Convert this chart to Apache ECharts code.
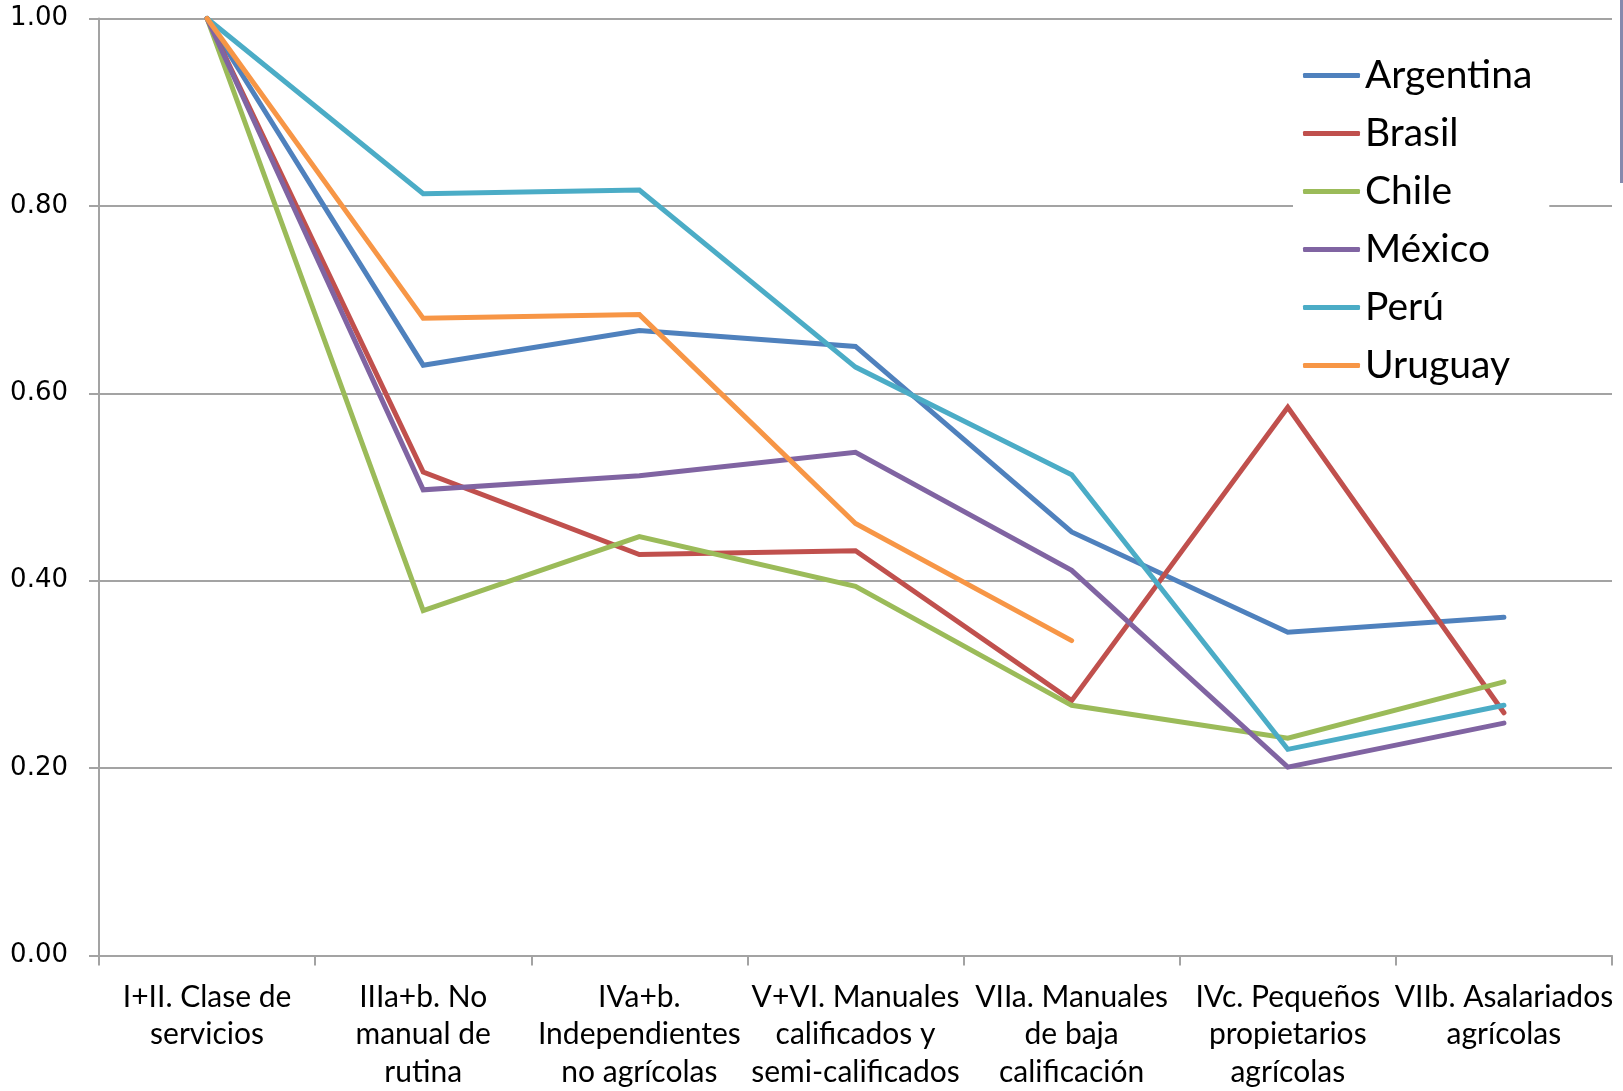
<!DOCTYPE html>
<html>
<head>
<meta charset="utf-8">
<script src="https://cdn.jsdelivr.net/npm/echarts@6/dist/echarts.min.js"></script>
<style>
  html, body { margin: 0; padding: 0; background: #ffffff; }
  #chart { width: 1623px; height: 1091px; }
</style>
</head>
<body>
<div id="chart"></div>
<script>
// Occupational classes (x categories)
const categories = [
  'I+II. Clase de\nservicios',
  'IIIa+b. No\nmanual de\nrutina',
  'IVa+b.\nIndependientes\nno agrícolas',
  'V+VI. Manuales\ncalificados y\nsemi-calificados',
  'VIIa. Manuales\nde baja\ncalificación',
  'IVc. Pequeños\npropietarios\nagrícolas',
  'VIIb. Asalariados\nagrícolas'
];

// Relative values by country (class I+II = 1.00)
const argentina = [1.00, 0.630, 0.667, 0.650, 0.452, 0.345, 0.361];
const brasil    = [1.00, 0.516, 0.428, 0.432, 0.272, 0.585, 0.259];
const chile     = [1.00, 0.368, 0.447, 0.394, 0.267, 0.232, 0.292];
const mexico    = [1.00, 0.497, 0.512, 0.537, 0.411, 0.201, 0.248];
const peru      = [1.00, 0.813, 0.817, 0.628, 0.513, 0.220, 0.267];
const uruguay   = [1.00, 0.680, 0.684, 0.461, 0.336, null, null];

const yTicks = [0, 0.2, 0.4, 0.6, 0.8, 1.0];

const seriesDefs = [
  { name: 'Argentina', data: argentina, color: '#4F81BD' },
  { name: 'Brasil',    data: brasil,    color: '#C0504D' },
  { name: 'Chile',     data: chile,     color: '#9BBB59' },
  { name: 'México',    data: mexico,    color: '#8064A2' },
  { name: 'Perú',      data: peru,      color: '#4BACC6' },
  { name: 'Uruguay',   data: uruguay,   color: '#F79646' }
];

const chart = echarts.init(document.getElementById('chart'), null, { renderer: 'canvas' });

const gridColor = '#a3a3a3';

chart.setOption({
  animation: false,
  backgroundColor: '#ffffff',
  color: seriesDefs.map(s => s.color),
  grid: { left: 99, right: 11, top: 18.5, bottom: 133, containLabel: false },
  legend: {
    left: 1293,
    top: 41.5,
    orient: 'vertical',
    backgroundColor: '#ffffff',
    padding: [14, 17, 2, 10],
    itemWidth: 57,
    itemHeight: 5,
    itemGap: 18,
    icon: 'roundRect',
    textStyle: { fontFamily: 'Lato', fontSize: 39, color: '#000000', lineHeight: 40 },
    data: seriesDefs.map(s => s.name)
  },
  xAxis: {
    type: 'category',
    data: categories,
    boundaryGap: true,
    axisLine: { lineStyle: { color: gridColor, width: 2 } },
    axisTick: { show: true, length: 10, inside: false, lineStyle: { color: gridColor, width: 2 } },
    axisLabel: {
      interval: 0,
      margin: 23,
      fontFamily: 'Lato',
      fontSize: 30,
      lineHeight: 37.5,
      color: '#000000',
      align: 'center'
    },
    splitLine: { show: false }
  },
  yAxis: {
    type: 'value',
    min: yTicks[0],
    max: yTicks[yTicks.length - 1],
    interval: 0.2,
    axisLine: { show: true, lineStyle: { color: gridColor, width: 2 } },
    axisTick: { show: true, length: 10, inside: false, lineStyle: { color: gridColor, width: 2 } },
    axisLabel: {
      margin: 31,
      fontFamily: 'DejaVu Sans',
      fontSize: 26,
      color: '#000000',
      formatter: v => v.toFixed(2)
    },
    splitLine: { show: true, lineStyle: { color: gridColor, width: 2 } }
  },
  graphic: [
    {
      type: 'rect',
      shape: { x: 1620, y: 0, width: 3, height: 183 },
      style: { fill: '#8589ad' },
      silent: true
    }
  ],
  series: seriesDefs.map(s => ({
    name: s.name,
    type: 'line',
    data: s.data,
    symbol: 'none',
    showSymbol: false,
    clip: false,
    connectNulls: false,
    lineStyle: { width: 5, color: s.color, cap: 'round', join: 'miter' },
    itemStyle: { color: s.color },
    emphasis: { disabled: true }
  }))
});
</script>
</body>
</html>
